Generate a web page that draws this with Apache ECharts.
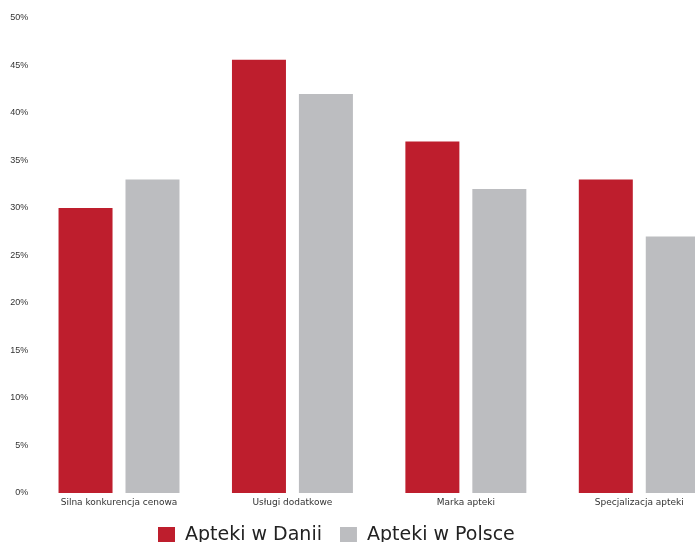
<!DOCTYPE html>
<html>
<head>
<meta charset="utf-8">
<script src="https://cdn.jsdelivr.net/npm/echarts@6/dist/echarts.min.js"></script>
<style>
html,body{margin:0;padding:0;background:#fff;overflow:hidden;width:695px;height:542px;}
#chart{width:726px;height:542px;}
</style>
</head>
<body>
<div id="chart"></div>
<script>
var categories = ['Silna konkurencja cenowa', 'Usługi dodatkowe', 'Marka apteki', 'Specjalizacja apteki'];
var seriesNames = ['Apteki w Danii', 'Apteki w Polsce'];
var daniaValues = [30, 45.6, 37, 33];
var polskaValues = [33, 42, 32, 27];

var chart = echarts.init(document.getElementById('chart'), null, {renderer: 'canvas'});
chart.setOption({
  animation: false,
  backgroundColor: '#ffffff',
  grid: {left: 32.3, top: 18, bottom: 49, right: 0, containLabel: false},
  legend: {
    data: seriesNames,
    top: 526,
    left: 158,
    padding: 0,
    itemWidth: 17,
    itemHeight: 17,
    itemGap: 18,
    icon: 'rect',
    textStyle: {fontFamily: 'DejaVu Sans', fontSize: 19, color: '#222', padding: [0, 0, 0, 5]}
  },
  xAxis: {
    type: 'category',
    data: categories,
    axisLine: {show: false},
    axisTick: {show: false},
    axisLabel: {fontFamily: 'DejaVu Sans', fontSize: 9, color: '#333', margin: 5, interval: 0}
  },
  yAxis: {
    type: 'value',
    min: 0,
    max: 50,
    interval: 5,
    axisLine: {show: false},
    axisTick: {show: false},
    splitLine: {show: false},
    axisLabel: {fontFamily: 'Liberation Sans', fontSize: 9, color: '#333', margin: 4, formatter: '{value}%'}
  },
  series: [
    {name: seriesNames[0], type: 'bar', data: daniaValues, barWidth: 54, barGap: '24%', itemStyle: {color: '#BE1E2D'}},
    {name: seriesNames[1], type: 'bar', data: polskaValues, barWidth: 54, barGap: '24%', itemStyle: {color: '#BCBDC0'}}
  ]
});
</script>
</body>
</html>
